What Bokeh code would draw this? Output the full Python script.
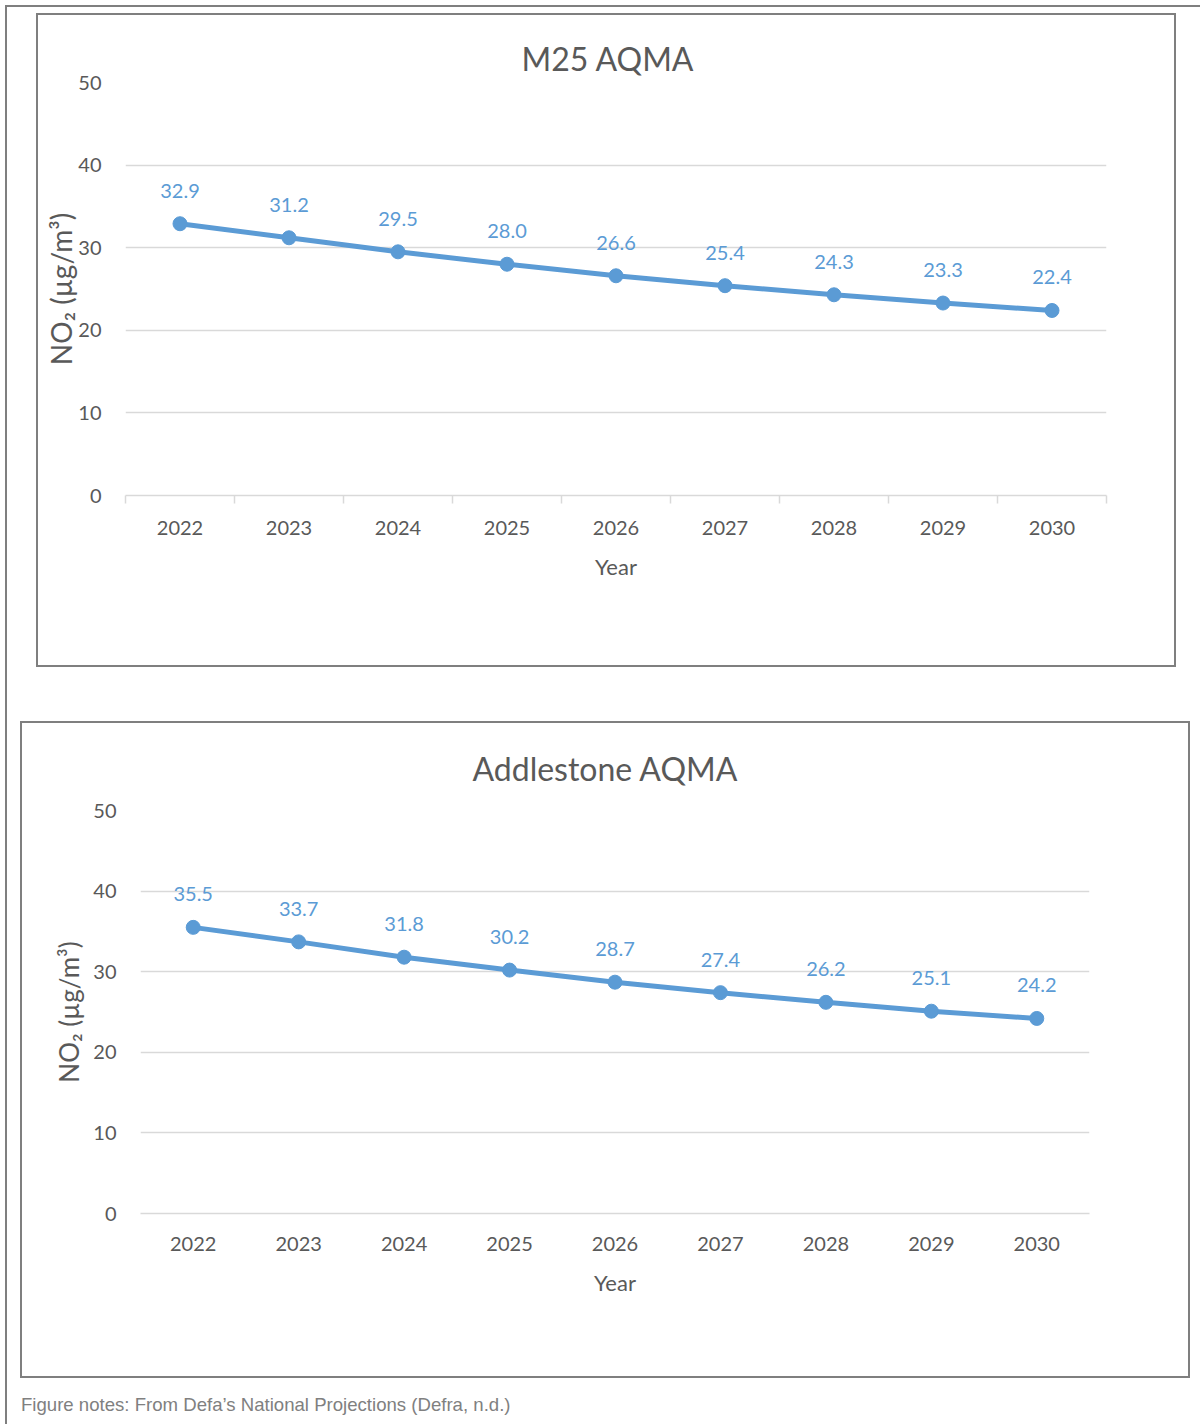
from bokeh.plotting import figure
from bokeh.models import ColumnDataSource, LabelSet, FixedTicker, Div, Range1d, Spacer
from bokeh.layouts import column, row
from bokeh.core.properties import value
from bokeh.embed import file_html
from bokeh.resources import INLINE

# ---- data ----
years = [2022, 2023, 2024, 2025, 2026, 2027, 2028, 2029, 2030]
m25_no2 = [32.9, 31.2, 29.5, 28.0, 26.6, 25.4, 24.3, 23.3, 22.4]
addlestone_no2 = [35.5, 33.7, 31.8, 30.2, 28.7, 27.4, 26.2, 25.1, 24.2]
y_ticks = [0, 10, 20, 30, 40, 50]
chart_titles = ["M25 AQMA", "Addlestone AQMA"]
x_label = "Year"
y_label = "NO\u2082 (\u00b5g/m\u00b3)"
note_text = "Figure notes: From Defa\u2019s National Projections (Defra, n.d.)"

FONT = "Lato"
GREY = "#595959"
BLUE = "#5b9bd5"
GRID = "#d9d9d9"
BOX = "#7f7f7f"


def make_chart(title, values, frame_w, frame_h, borders, ylab_size, ylab_standoff,
               boundary_ticks, title_offset, title_standoff):
    left, right, top, bottom = borders
    p = figure(frame_width=frame_w, frame_height=frame_h, output_backend="svg",
               toolbar_location=None,
               x_range=Range1d(years[0] - 0.5, years[-1] + 0.5),
               y_range=Range1d(y_ticks[0], y_ticks[-1]),
               min_border_left=left, min_border_right=right,
               min_border_top=top, min_border_bottom=bottom,
               title=title, outline_line_color=None,
               background_fill_color="white", border_fill_color="white")

    p.title.align = "left"
    p.title.text_font = FONT
    p.title.text_font_size = "32px"
    p.title.text_font_style = "normal"
    p.title.text_color = GREY
    p.title.offset = title_offset
    p.title.standoff = title_standoff

    # x axis
    xa = p.xaxis[0]
    bounds = [y - 0.5 for y in years] + [years[-1] + 0.5]
    xa.ticker = FixedTicker(ticks=years, minor_ticks=bounds if boundary_ticks else [])
    xa.major_label_overrides = {y: str(y) for y in years}
    xa.major_tick_line_color = None
    xa.minor_tick_line_color = GRID
    xa.minor_tick_line_width = 1.5
    xa.minor_tick_in = 0
    xa.minor_tick_out = 8
    xa.axis_line_color = GRID
    xa.axis_line_width = 1.5
    xa.major_label_text_font = FONT
    xa.major_label_text_font_size = "20px"
    xa.major_label_text_color = GREY
    xa.major_label_standoff = 17
    xa.axis_label = x_label
    xa.axis_label_text_font = FONT
    xa.axis_label_text_font_size = "22px"
    xa.axis_label_text_font_style = "normal"
    xa.axis_label_text_color = GREY
    xa.axis_label_standoff = 15

    # y axis
    ya = p.yaxis[0]
    ya.ticker = FixedTicker(ticks=y_ticks)
    ya.axis_line_color = None
    ya.major_tick_line_color = None
    ya.minor_tick_line_color = None
    ya.major_label_text_font = FONT
    ya.major_label_text_font_size = "20px"
    ya.major_label_text_color = GREY
    ya.major_label_standoff = 18
    ya.axis_label = y_label
    ya.axis_label_text_font = FONT
    ya.axis_label_text_font_size = ylab_size
    ya.axis_label_text_font_style = "normal"
    ya.axis_label_text_color = GREY
    ya.axis_label_standoff = ylab_standoff

    p.xgrid.visible = False
    p.ygrid.ticker = FixedTicker(ticks=y_ticks)
    p.ygrid.grid_line_color = GRID
    p.ygrid.grid_line_width = 1.5

    src = ColumnDataSource(dict(x=years, y=values,
                                lab=["%.1f" % v for v in values]))
    p.line("x", "y", source=src, line_color=BLUE, line_width=5)
    p.scatter("x", "y", source=src, size=14, fill_color=BLUE, line_color=BLUE)
    labels = LabelSet(x="x", y="y", text="lab", source=src, y_offset=33,
                      text_align="center", text_baseline="middle",
                      text_font=value(FONT), text_font_size=value("20px"),
                      text_color=BLUE)
    p.add_layout(labels)
    return p


p1 = make_chart(chart_titles[0], m25_no2, 981, 413, (87, 68, 67, 170),
                "28px", -3, True, 396, 10)
p2 = make_chart(chart_titles[1], addlestone_no2, 949, 403, (118, 99, 87, 163),
                "26px", 5, False, 332, 46)

box_style = {"border": "2px solid " + BOX}
w1 = column(p1, styles=box_style)
w2 = column(p2, styles=box_style)

note = Div(text=note_text,
           styles={"font-family": "'Liberation Sans', Arial, sans-serif",
                   "font-size": "18.6px", "color": "#808080",
                   "white-space": "nowrap"})

page = column(
    Spacer(width=1195, height=6),
    row(Spacer(width=29), w1, spacing=0),
    Spacer(height=54),
    row(Spacer(width=13), w2, spacing=0),
    Spacer(height=9),
    row(Spacer(width=9), note, spacing=0),
    spacing=0,
    styles={"border-left": "2px solid " + BOX, "border-top": "2px solid " + BOX},
)

outer = column(Spacer(height=5), row(Spacer(width=5), page, spacing=0), spacing=0)

open("out.html", "w").write(file_html(outer, INLINE))
